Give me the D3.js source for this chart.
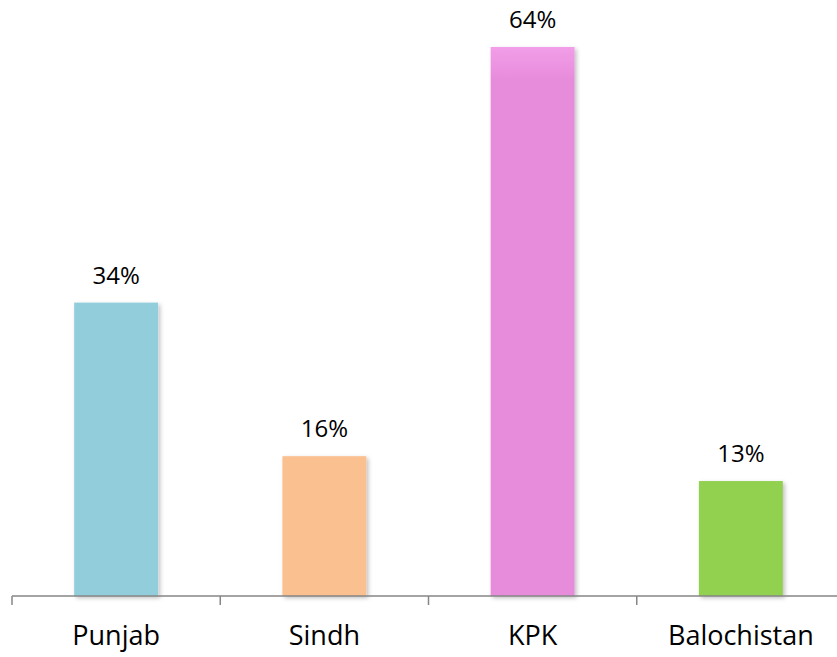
<!DOCTYPE html>
<html>
<head>
<meta charset="utf-8">
<script src="https://cdn.jsdelivr.net/npm/d3@7"></script>
<style>
  body { margin: 0; background: #fff; }
  text { font-family: "Open Sans", sans-serif; fill: #000; }
</style>
</head>
<body>
<div id="chart"></div>
<script>
// chart data
var provinces = ["Punjab", "Sindh", "KPK", "Balochistan"];
var shares = [34.2, 16.3, 64, 13.4];
var barColors = ["#92cddc", "#fac090", "#e78bdb", "#92d050"];

var width = 837, height = 657;
var baseY = 596;

// scales
var x = d3.scaleBand()
    .domain(provinces)
    .range([12, 845])
    .paddingInner(0.597)
    .paddingOuter(0.2985);

var y = d3.scaleLinear()
    .domain([0, 64])
    .range([baseY, 47]);

var fmt = function(v) { return Math.round(v) + "%"; };

var svg = d3.select("#chart").append("svg")
    .attr("width", width)
    .attr("height", height);

// soft shadow like the office chart
var defs = svg.append("defs");
var f = defs.append("filter").attr("id", "shadow")
    .attr("x", "-10%").attr("y", "-10%").attr("width", "130%").attr("height", "130%");
f.append("feDropShadow")
    .attr("dx", 2).attr("dy", 2).attr("stdDeviation", 2)
    .attr("flood-color", "#000").attr("flood-opacity", 0.25);

var grad = defs.append("linearGradient").attr("id", "kpk")
    .attr("x1", 0).attr("y1", 0).attr("x2", 0).attr("y2", 1);
grad.append("stop").attr("offset", "0%").attr("stop-color", "#f29ee8");
grad.append("stop").attr("offset", "6%").attr("stop-color", "#e78bdb");
grad.append("stop").attr("offset", "100%").attr("stop-color", "#e78bdb");

var data = provinces.map(function(p, i) {
    return {name: p, value: shares[i], color: barColors[i]};
});

// bars
svg.selectAll(".bar")
    .data(data)
    .enter().append("rect")
    .attr("class", "bar")
    .attr("x", function(d) { return x(d.name); })
    .attr("width", x.bandwidth())
    .attr("y", function(d) { return y(d.value); })
    .attr("height", function(d) { return baseY - y(d.value); })
    .attr("fill", function(d) { return d.name === "KPK" ? "url(#kpk)" : d.color; })
    .attr("filter", "url(#shadow)");

// value labels
svg.selectAll(".val")
    .data(data)
    .enter().append("text")
    .attr("class", "val")
    .attr("x", function(d) { return x(d.name) + x.bandwidth() / 2; })
    .attr("y", function(d) { return y(d.value) - 19; })
    .attr("text-anchor", "middle")
    .style("font-size", "24px")
    .text(function(d) { return fmt(d.value); });

// axis line and ticks between categories
var axis = svg.append("g");
axis.append("line")
    .attr("x1", 12).attr("x2", width)
    .attr("y1", baseY).attr("y2", baseY)
    .attr("stroke", "#868686").attr("stroke-width", 1.5);

axis.selectAll(".tick")
    .data(d3.range(provinces.length + 1))
    .enter().append("line")
    .attr("x1", function(i) { return 12 + i * x.step(); })
    .attr("x2", function(i) { return 12 + i * x.step(); })
    .attr("y1", baseY).attr("y2", baseY + 9)
    .attr("stroke", "#868686").attr("stroke-width", 1.5);

// category labels
svg.selectAll(".cat")
    .data(data)
    .enter().append("text")
    .attr("class", "cat")
    .attr("x", function(d) { return x(d.name) + x.bandwidth() / 2; })
    .attr("y", 645)
    .attr("text-anchor", "middle")
    .style("font-size", "27px")
    .text(function(d) { return d.name; });
</script>
</body>
</html>
